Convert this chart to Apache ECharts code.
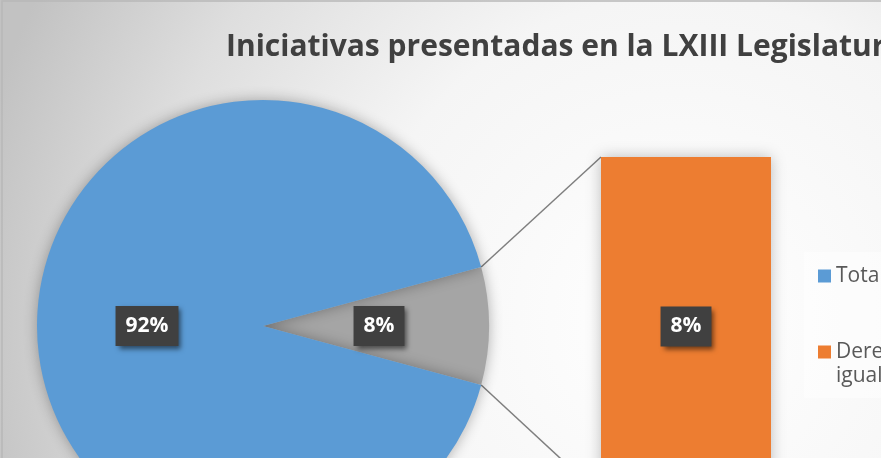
<!DOCTYPE html>
<html>
<head>
<meta charset="utf-8">
<script src="https://cdn.jsdelivr.net/npm/echarts@6/dist/echarts.min.js"></script>
<style>
html,body{margin:0;padding:0;background:#fff;}
#chart{width:881px;height:458px;}
</style>
</head>
<body>
<div id="chart"></div>
<script>
// ---- data ----
const titleText = 'Iniciativas presentadas en la LXIII Legislatura';
const pieCategories = ['Total de iniciativas', 'Otras'];
const pieValues = [91.6, 8.4];
const barCategories = ['Derecho a la igualdad y no discriminación'];
const barValues = [8.4];

// ---- layout ----
const CX = 263, CY = 326, R = 226;
const BAR_LEFT = 601, BAR_TOP = 157, BAR_W = 170, BAR_H = 339;

const total = pieValues.reduce((a, b) => a + b, 0);
const otherShare = pieValues[1] / total;
const halfAngle = otherShare * 180;          // degrees
const halfRad = halfAngle * Math.PI / 180;
const edgeX = CX + R * Math.cos(halfRad);
const edgeUpY = CY - R * Math.sin(halfRad);
const edgeDnY = CY + R * Math.sin(halfRad);

const boxLabel = {
  show: true,
  color: '#ffffff',
  fontFamily: 'Open Sans',
  fontWeight: 'bold',
  fontSize: 21,
  lineHeight: 24,
  backgroundColor: '#404040',
  padding: [8, 10, 8, 10],
  shadowColor: 'rgba(0,0,0,0.55)',
  shadowBlur: 5,
  shadowOffsetX: 3,
  shadowOffsetY: 3
};

const legendText = {fontFamily: 'Open Sans', fontSize: 21, color: '#595959', lineHeight: 24};

const chart = echarts.init(document.getElementById('chart'), null, {renderer: 'canvas'});
chart.setOption({
  animation: false,
  backgroundColor: {
    type: 'radial', x: 680, y: 320, r: 720, global: true,
    colorStops: [
      {offset: 0, color: '#ffffff'},
      {offset: 0.45, color: '#f5f5f5'},
      {offset: 0.75, color: '#dedede'},
      {offset: 1, color: '#c2c2c2'}
    ]
  },
  title: {
    text: titleText,
    left: 226, top: 32, padding: 0,
    textStyle: {fontFamily: 'Open Sans', fontWeight: 'bold', fontSize: 30, color: '#404040'}
  },
  legend: [{
    data: [pieCategories[0]],
    left: 818, top: 264, padding: 0,
    icon: 'rect', itemWidth: 13, itemHeight: 13, itemGap: 0,
    textStyle: legendText
  }, {
    data: [barCategories[0]],
    left: 818, top: 340, padding: 0,
    icon: 'path://M0,0L13,0L13,13L0,13Z M0,37L13,37',
    itemWidth: 13, itemHeight: 37,
    formatter: function (n) { return 'Derecho a la\nigualdad y no discriminación'; },
    textStyle: legendText
  }],
  grid: {left: BAR_LEFT, top: BAR_TOP, width: BAR_W, height: BAR_H, outerBoundsMode: 'none', containLabel: false},
  xAxis: {type: 'category', data: barCategories, show: false},
  yAxis: {type: 'value', min: 0, max: barValues.reduce((a, b) => a + b, 0), show: false},
  graphic: [
    {type: 'rect', z: -5, shape: {x: 804, y: 252, width: 100, height: 146}, style: {fill: 'rgba(255,255,255,0.45)'}},
    {type: 'rect', z: -4, shape: {x: 2, y: 1, width: 920, height: 520}, style: {fill: 'none', stroke: '#b8b8b8', lineWidth: 1.5}},
    {type: 'line', z: -3, shape: {x1: edgeX, y1: edgeUpY, x2: BAR_LEFT, y2: BAR_TOP}, style: {stroke: '#7f7f7f', lineWidth: 1.5}},
    {type: 'line', z: -3, shape: {x1: edgeX, y1: edgeDnY, x2: BAR_LEFT, y2: BAR_TOP + BAR_H}, style: {stroke: '#7f7f7f', lineWidth: 1.5}}
  ],
  series: [{
    type: 'pie',
    center: [CX, CY],
    radius: R,
    startAngle: halfAngle,
    clockwise: true,
    percentPrecision: 0,
    label: Object.assign({}, boxLabel, {position: 'inside', formatter: p => Math.round(p.percent) + '%'}),
    labelLine: {show: false},
    itemStyle: {borderWidth: 0, shadowBlur: 14, shadowColor: 'rgba(0,0,0,0.3)'},
    emphasis: {disabled: true},
    data: [
      {name: pieCategories[1], value: pieValues[1], itemStyle: {color: '#a5a5a5'}},
      {name: pieCategories[0], value: pieValues[0], itemStyle: {color: '#5b9bd5'}}
    ]
  }, {
    type: 'bar',
    name: barCategories[0],
    data: barValues,
    barWidth: '100%',
    itemStyle: {color: '#ed7d31', shadowBlur: 14, shadowColor: 'rgba(0,0,0,0.25)'},
    label: Object.assign({}, boxLabel, {position: 'inside', formatter: p => Math.round(p.value / total * 100) + '%'}),
    emphasis: {disabled: true}
  }]
});
</script>
</body>
</html>
